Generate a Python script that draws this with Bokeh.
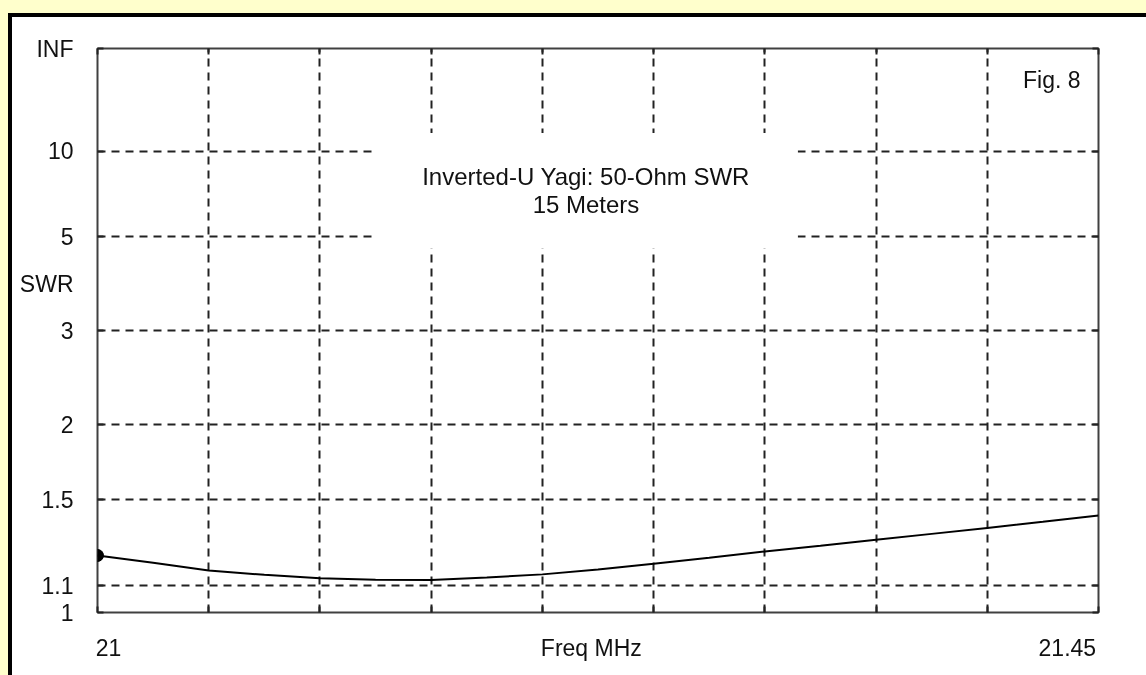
import numpy as np
from bokeh.plotting import figure
from bokeh.models import (FixedTicker, CustomJSTickFormatter, Label, LinearAxis,
                          ColumnDataSource, CustomLabelingPolicy)
from bokeh.embed import file_html
from bokeh.resources import INLINE

# ---------------- data ----------------
freq_mhz = [21.0, 21.025, 21.05, 21.075, 21.1, 21.125, 21.15, 21.175, 21.2, 21.225,
            21.25, 21.275, 21.3, 21.325, 21.35, 21.375, 21.4, 21.425, 21.45]
swr = [1.225, 1.193, 1.161, 1.143, 1.129, 1.123, 1.122, 1.132, 1.145, 1.165,
       1.189, 1.215, 1.243, 1.268, 1.296, 1.324, 1.353, 1.383, 1.415]
freq_ticks = [21.0, 21.05, 21.1, 21.15, 21.2, 21.25, 21.3, 21.35, 21.4, 21.45]
swr_ticks = [1.0, 1.1, 1.5, 2.0, 3.0, 5.0, 10.0, float("inf")]
x_label_text = ["21", "Freq MHz", "21.45"]
x_label_pos = [21.005, 21.222, 21.436]
title_lines = ["Inverted-U Yagi: 50-Ohm SWR", "15 Meters"]
y_axis_title = "SWR"
fig_tag = "Fig. 8"


def refl(s):
    """SWR -> reflection coefficient magnitude (the chart's vertical scale)."""
    s = np.asarray(s, dtype=float)
    return np.where(np.isinf(s), 1.0, (s - 1.0) / (s + 1.0))


gamma_ticks = [float(v) for v in refl(swr_ticks)]
swr_label_pos = float((refl(5.0) + refl(3.0)) / 2)
src = ColumnDataSource(dict(f=freq_mhz, g=refl(swr)))

FONT = "Liberation Sans"
FS = "23px"
INK = "#111111"
TICK = "#222222"

p = figure(width=1126, height=650, output_backend="svg", toolbar_location=None,
           x_range=(freq_ticks[0], freq_ticks[-1]), y_range=(0, 1),
           min_border_left=85, min_border_right=40, min_border_top=31, min_border_bottom=55,
           background_fill_color="white", border_fill_color="white",
           outline_line_color="#404040", outline_line_width=2)
p.styles = {"margin-left": "12px", "margin-top": "17px"}

hide_all = CustomLabelingPolicy(code="""
    for (let i = 0; i < indices.size; i++) { indices.unset(i) }
    return indices
""")


def tick_only(axis, ticks):
    axis.ticker = FixedTicker(ticks=ticks)
    axis.axis_line_color = None
    axis.major_tick_in = 6
    axis.major_tick_out = 0
    axis.major_tick_line_color = TICK
    axis.major_tick_line_width = 2
    axis.minor_tick_line_color = None
    axis.major_label_policy = hide_all
    axis.major_label_text_font_size = "1px"
    axis.major_label_standoff = 0


# default axes: tick marks only (grid positions)
tick_only(p.xaxis[0], freq_ticks)
tick_only(p.yaxis[0], gamma_ticks)
top_ax = LinearAxis()
right_ax = LinearAxis()
tick_only(top_ax, freq_ticks)
tick_only(right_ax, gamma_ticks)
p.add_layout(top_ax, "above")
p.add_layout(right_ax, "right")

# labelled axes
y_lab = LinearAxis(ticker=FixedTicker(ticks=gamma_ticks + [swr_label_pos]),
                   formatter=CustomJSTickFormatter(args=dict(pos=swr_label_pos, name=y_axis_title), code="""
    if (Math.abs(tick - pos) < 1e-9) return name;
    if (tick >= 0.9999) return "INF";
    const s = (1 + tick) / (1 - tick);
    return String(parseFloat(s.toFixed(2)));
"""),
                   axis_line_color=None, major_tick_in=0, major_tick_out=0,
                   minor_tick_line_color=None, major_label_standoff=18,
                   major_label_text_font=FONT, major_label_text_font_size=FS,
                   major_label_text_color=INK)
p.add_layout(y_lab, "left")

x_lab = LinearAxis(ticker=FixedTicker(ticks=x_label_pos),
                   formatter=CustomJSTickFormatter(args=dict(labels=x_label_text),
                                                   code="return labels[index];"),
                   axis_line_color=None, major_tick_in=0, major_tick_out=0,
                   minor_tick_line_color=None, major_label_standoff=18,
                   major_label_text_font=FONT, major_label_text_font_size=FS,
                   major_label_text_color=INK)
p.add_layout(x_lab, "below")

# grid (own tickers)
p.xgrid.ticker = FixedTicker(ticks=freq_ticks)
p.ygrid.ticker = FixedTicker(ticks=gamma_ticks)
p.grid.grid_line_color = TICK
p.grid.grid_line_width = 2
p.grid.grid_line_dash = "8 6"

# curve
p.line("f", "g", source=src, line_color="black", line_width=2)
p.scatter(x=[freq_mhz[0]], y=[float(refl(swr[0]))], size=12, marker="circle",
          fill_color="black", line_color="black")

# chart title box
p.add_layout(Label(x=(freq_ticks[0] + freq_ticks[-1]) / 2, x_offset=-12,
                   y=float((refl(10.0) + refl(5.0)) / 2), y_offset=3,
                   text="\n".join(title_lines), text_align="center", text_baseline="middle",
                   text_font=FONT, text_font_size="24px", text_color=INK, text_line_height=1.05,
                   background_fill_color="white", padding=(48, 30)))

# figure tag
p.add_layout(Label(x=freq_ticks[-1], x_offset=-18, y=1.0, y_offset=-31, text=fig_tag,
                   text_align="right", text_baseline="middle",
                   text_font=FONT, text_font_size=FS, text_color=INK))

page_style = ("{% block preamble %}<style>"
              "body{background:#FFFFCC;}"
              "body::before{content:'';position:fixed;left:8px;top:13px;right:-20px;bottom:-20px;"
              "border:4px solid #000;background:#fff;z-index:-1;}"
              "</style>{% endblock %}")
open("out.html", "w").write(file_html(p, INLINE, template=page_style))
